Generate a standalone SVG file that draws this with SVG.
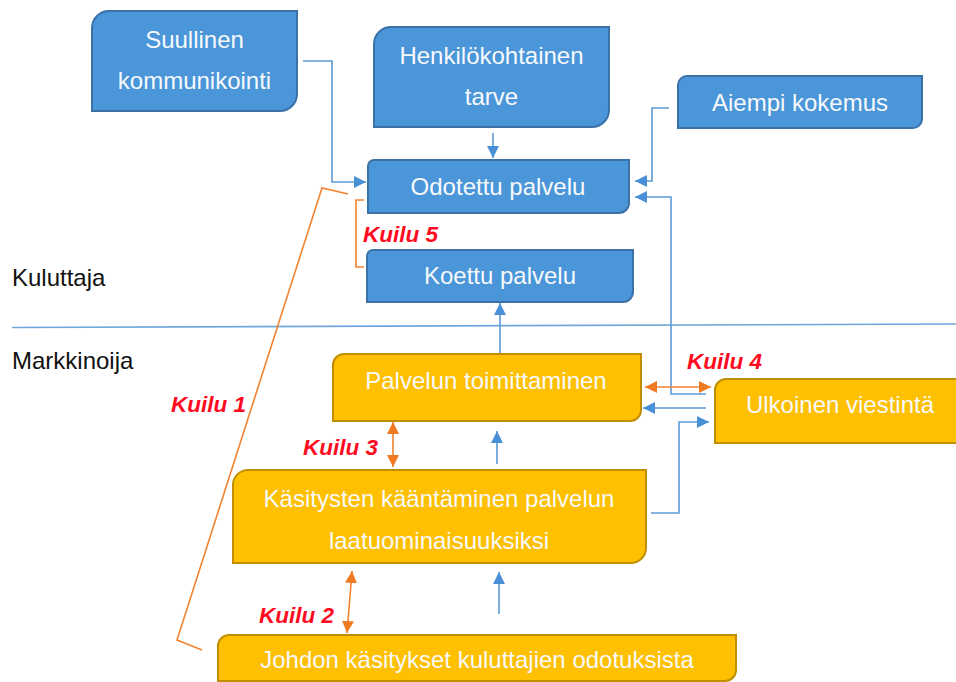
<svg xmlns="http://www.w3.org/2000/svg" width="956" height="682" viewBox="0 0 956 682">
<style>
.blue{fill:#4a96d8;stroke:#3a72a8;stroke-width:2}
.gold{fill:#fec000;stroke:#c08e00;stroke-width:2}
.nt{font-family:"Liberation Sans",Arial,sans-serif;font-size:24px;fill:#f7f9fc;text-anchor:middle}
.lbl{font-family:"Liberation Sans",Arial,sans-serif;font-size:24px;fill:#111}
.gap{font-family:"Liberation Sans",Arial,sans-serif;font-size:22.5px;font-weight:bold;font-style:italic;fill:#ff0a1e}
.cb{fill:none;stroke:#5b9bd5;stroke-width:1.6}
.co{fill:none;stroke:#f28330;stroke-width:1.6}
</style>
<defs>
<marker id="ab" markerUnits="userSpaceOnUse" markerWidth="13" markerHeight="13" refX="12" refY="6.5" orient="auto-start-reverse"><path d="M0,0.5 L12,6.5 L0,12.5 Z" fill="#4a90d6"/></marker>
<marker id="ao" markerUnits="userSpaceOnUse" markerWidth="13" markerHeight="13" refX="12" refY="6.5" orient="auto-start-reverse"><path d="M0,0.5 L12,6.5 L0,12.5 Z" fill="#f07a22"/></marker>
</defs>
<line x1="12" y1="327.5" x2="956" y2="324" stroke="#6fa6dc" stroke-width="1.6"/>
<text class="lbl" x="12" y="286">Kuluttaja</text>
<text class="lbl" x="12" y="369">Markkinoija</text>
<g id="connectors">
<path class="cb" d="M303,61 H332 V182 H366" marker-end="url(#ab)"/>
<path class="cb" d="M493,133 V158" marker-end="url(#ab)"/>
<path class="cb" d="M669,108 H652 V181 H635" marker-end="url(#ab)"/>
<path class="cb" d="M706,394 H671 V197 H635" marker-end="url(#ab)"/>
<path class="cb" d="M706,408 H643" marker-end="url(#ab)"/>
<path class="cb" d="M651,513 H679 V422 H709" marker-end="url(#ab)"/>
<path class="cb" d="M500,354 V303" marker-end="url(#ab)"/>
<path class="cb" d="M497,464 V431" marker-end="url(#ab)"/>
<path class="cb" d="M499,614 V572" marker-end="url(#ab)"/>
<path class="co" d="M645,387 H711" marker-start="url(#ao)" marker-end="url(#ao)"/>
<path class="co" d="M393,422 V467" marker-start="url(#ao)" marker-end="url(#ao)"/>
<path class="co" d="M352,571 L347,633" marker-start="url(#ao)" marker-end="url(#ao)"/>
<path class="co" d="M348,194 L322,188 L177,640 L202,650"/>
<path class="co" d="M364,200 H356 V267 H364"/>
</g>
<g id="n_suullinen"><path class="blue" d="M109,11 H297 V94 A17,17 0 0 1 280,111 H92 V28 A17,17 0 0 1 109,11 Z"/><text class="nt" x="194.5" y="48">Suullinen</text><text class="nt" x="194.5" y="89">kommunikointi</text></g>
<g id="n_henkilo"><path class="blue" d="M391,27 H609 V110 A17,17 0 0 1 592,127 H374 V44 A17,17 0 0 1 391,27 Z"/><text class="nt" x="491.5" y="64">Henkilökohtainen</text><text class="nt" x="491.5" y="105">tarve</text></g>
<g id="n_aiempi"><path class="blue" d="M687,76 H922 V119 A9,9 0 0 1 913,128 H678 V85 A9,9 0 0 1 687,76 Z"/><text class="nt" x="800" y="111">Aiempi kokemus</text></g>
<g id="n_odotettu"><path class="blue" d="M374,160 H629 V203 A10,10 0 0 1 619,213 H368 V166 A6,6 0 0 1 374,160 Z"/><text class="nt" x="498" y="195">Odotettu palvelu</text></g>
<g id="n_koettu"><path class="blue" d="M373,250 H633 V292 A10,10 0 0 1 623,302 H367 V256 A6,6 0 0 1 373,250 Z"/><text class="nt" x="500" y="284">Koettu palvelu</text></g>
<g id="n_palvelun"><path class="gold" d="M344,354 H641 V410 A11,11 0 0 1 630,421 H333 V365 A11,11 0 0 1 344,354 Z"/><text class="nt" x="486" y="389">Palvelun toimittaminen</text></g>
<g id="n_ulkoinen"><path class="gold" d="M726,379 H970 V443 H715 V390 A11,11 0 0 1 726,379 Z"/><text class="nt" x="840" y="413">Ulkoinen viestintä</text></g>
<g id="n_kasitysten"><path class="gold" d="M248,470 H646 V548 A15,15 0 0 1 631,563 H233 V485 A15,15 0 0 1 248,470 Z"/><text class="nt" x="439" y="507">Käsitysten kääntäminen palvelun</text><text class="nt" x="439" y="549">laatuominaisuuksiksi</text></g>
<g id="n_johdon"><path class="gold" d="M229,635 H736 V670 A11,11 0 0 1 725,681 H218 V646 A11,11 0 0 1 229,635 Z"/><text class="nt" x="477" y="668">Johdon käsitykset kuluttajien odotuksista</text></g>
<g id="gaps">
<text class="gap" x="363" y="242">Kuilu 5</text>
<text class="gap" x="687" y="369">Kuilu 4</text>
<text class="gap" x="303" y="455">Kuilu 3</text>
<text class="gap" x="259" y="623">Kuilu 2</text>
<text class="gap" x="171" y="412">Kuilu 1</text>
</g>
</svg>
